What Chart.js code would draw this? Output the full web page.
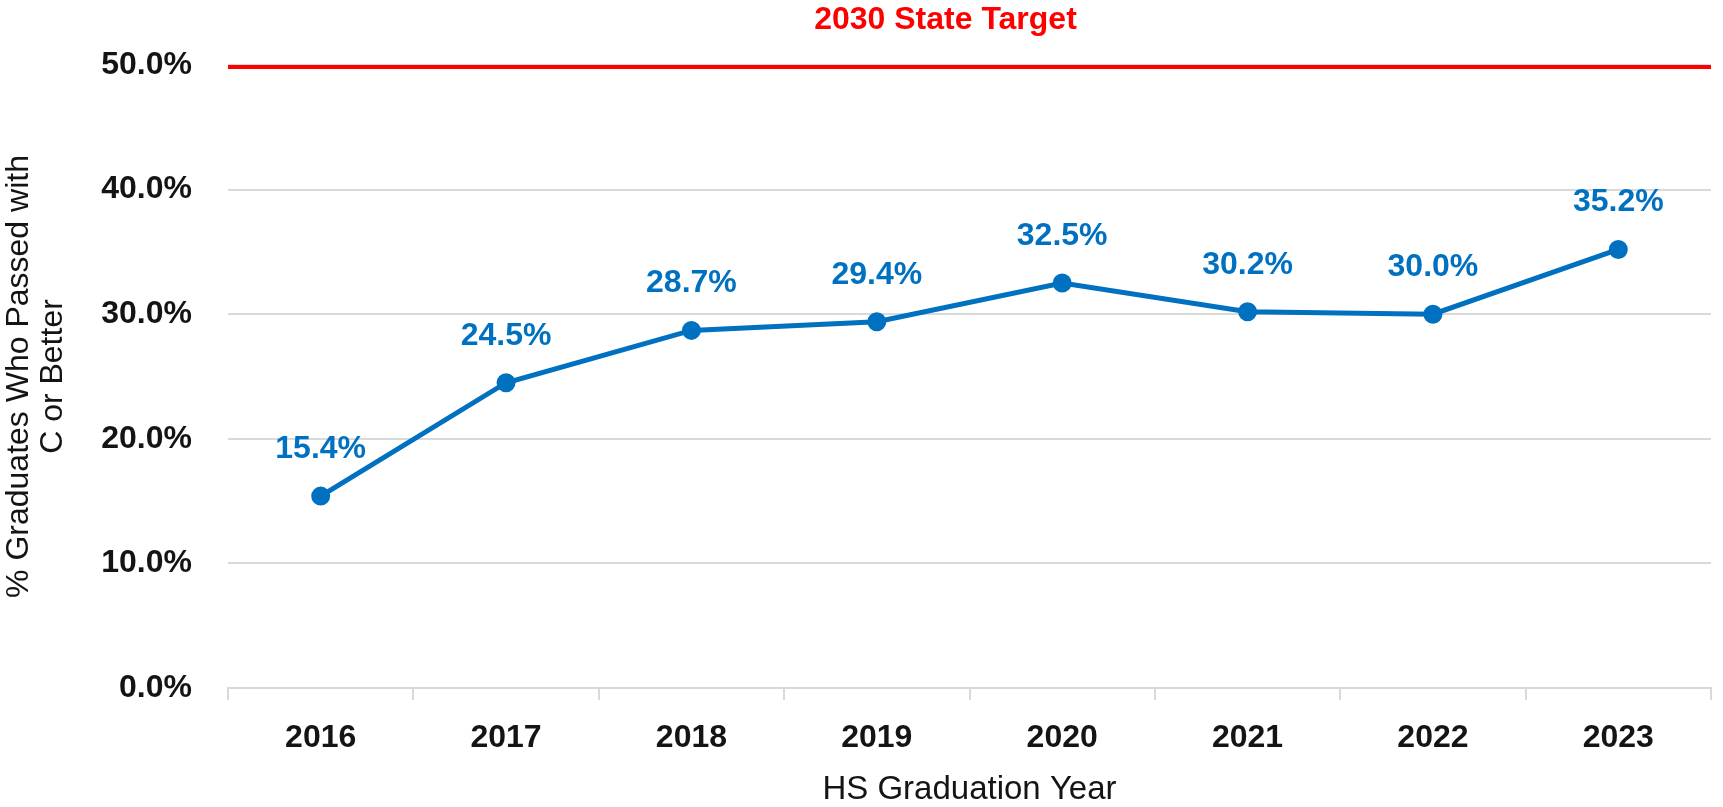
<!DOCTYPE html>
<html>
<head>
<meta charset="utf-8">
<style>
  html, body { margin: 0; padding: 0; background: #fff; }
  #wrap { width: 1723px; height: 807px; }
</style>
</head>
<body>
<div id="wrap">
    <canvas id="gradChart"></canvas>
</div>
<script src="https://cdn.jsdelivr.net/npm/chart.js"></script>
<script>
    var years = ['2016', '2017', '2018', '2019', '2020', '2021', '2022', '2023'];
    var passRates = [15.4, 24.5, 28.7, 29.4, 32.5, 30.2, 30.0, 35.2];
    var targetValue = 50;
    var targetLabel = '2030 State Target';
    var yTicks = [0, 10, 20, 30, 40, 50];

    var FONT = '"Liberation Sans", Arial, sans-serif';
    var BLUE = '#0070C0';
    var RED = '#FF0000';
    var GRID = '#d9d9d9';
    var TEXT = '#141414';

    // draws the value labels above the points and the target caption
    var labelPlugin = {
        id: 'labels',
        afterDatasetsDraw: function (chart) {
            var ctx = chart.ctx;
            var meta = chart.getDatasetMeta(0);
            ctx.save();
            ctx.font = 'bold 32px ' + FONT;
            ctx.fillStyle = BLUE;
            ctx.textAlign = 'center';
            ctx.textBaseline = 'middle';
            meta.data.forEach(function (pt, i) {
                ctx.fillText(passRates[i].toFixed(1) + '%', pt.x, pt.y - 47);
            });
            var area = chart.chartArea;
            var yt = chart.scales.y.getPixelForValue(targetValue);
            ctx.fillStyle = RED;
            ctx.font = 'bold 32px ' + FONT;
            ctx.fillText(targetLabel, (area.left + area.right) / 2 - 24, yt - 45);
            ctx.restore();
        }
    };

    document.addEventListener('DOMContentLoaded', function () {
        var ctx = document.getElementById('gradChart').getContext('2d');

        new Chart(ctx, {
            type: 'line',
            data: {
                labels: years,
                datasets: [{
                    label: 'Passed with C or Better',
                    data: passRates,
                    borderColor: BLUE,
                    backgroundColor: BLUE,
                    borderWidth: 5,
                    pointRadius: 7,
                    pointHoverRadius: 7,
                    tension: 0,
                    xAxisID: 'x',
                    order: 1
                }, {
                    label: targetLabel,
                    data: [targetValue, targetValue],
                    borderColor: RED,
                    backgroundColor: RED,
                    borderWidth: 8,
                    pointRadius: 0,
                    xAxisID: 'x2',
                    order: 2
                }]
            },
            options: {
                responsive: true,
                maintainAspectRatio: false,
                animation: false,
                layout: { padding: { top: 65, right: 7, left: 0, bottom: 0 } },
                plugins: {
                    legend: { display: false },
                    tooltip: { enabled: false }
                },
                scales: {
                    x: {
                        type: 'category',
                        offset: true,
                        afterFit: function (s) { s.height = 119; },
                        grid: {
                            offset: true,
                            drawOnChartArea: false,
                            drawTicks: true,
                            tickLength: 12,
                            color: GRID,
                            lineWidth: 2
                        },
                        border: { display: true, color: GRID, width: 2 },
                        ticks: {
                            color: TEXT,
                            font: { family: FONT, size: 32, weight: 'bold', lineHeight: 1 },
                            padding: 22
                        },
                        title: {
                            display: true,
                            text: 'HS Graduation Year',
                            color: TEXT,
                            font: { family: FONT, size: 33, lineHeight: 1 },
                            padding: { top: 4, bottom: 1 }
                        }
                    },
                    x2: {
                        type: 'category',
                        labels: ['start', 'end'],
                        offset: false,
                        display: false
                    },
                    y: {
                        min: yTicks[0],
                        max: yTicks[yTicks.length - 1],
                        afterFit: function (s) { s.width = 228; },
                        afterBuildTicks: function (s) {
                            s.ticks = yTicks.map(function (v) { return { value: v }; });
                        },
                        grid: {
                            color: GRID,
                            lineWidth: 2,
                            drawTicks: false
                        },
                        border: { display: false },
                        ticks: {
                            color: TEXT,
                            font: { family: FONT, size: 32, weight: 'bold' },
                            padding: 36,
                            callback: function (v) { return v.toFixed(1) + '%'; }
                        },
                        title: {
                            display: true,
                            text: ['% Graduates Who Passed with', 'C or Better'],
                            color: TEXT,
                            font: { family: FONT, size: 32, lineHeight: 1.06 },
                            padding: { top: 2, bottom: 0 }
                        }
                    }
                }
            },
            plugins: [labelPlugin]
        });
    });
</script>
</body>
</html>
